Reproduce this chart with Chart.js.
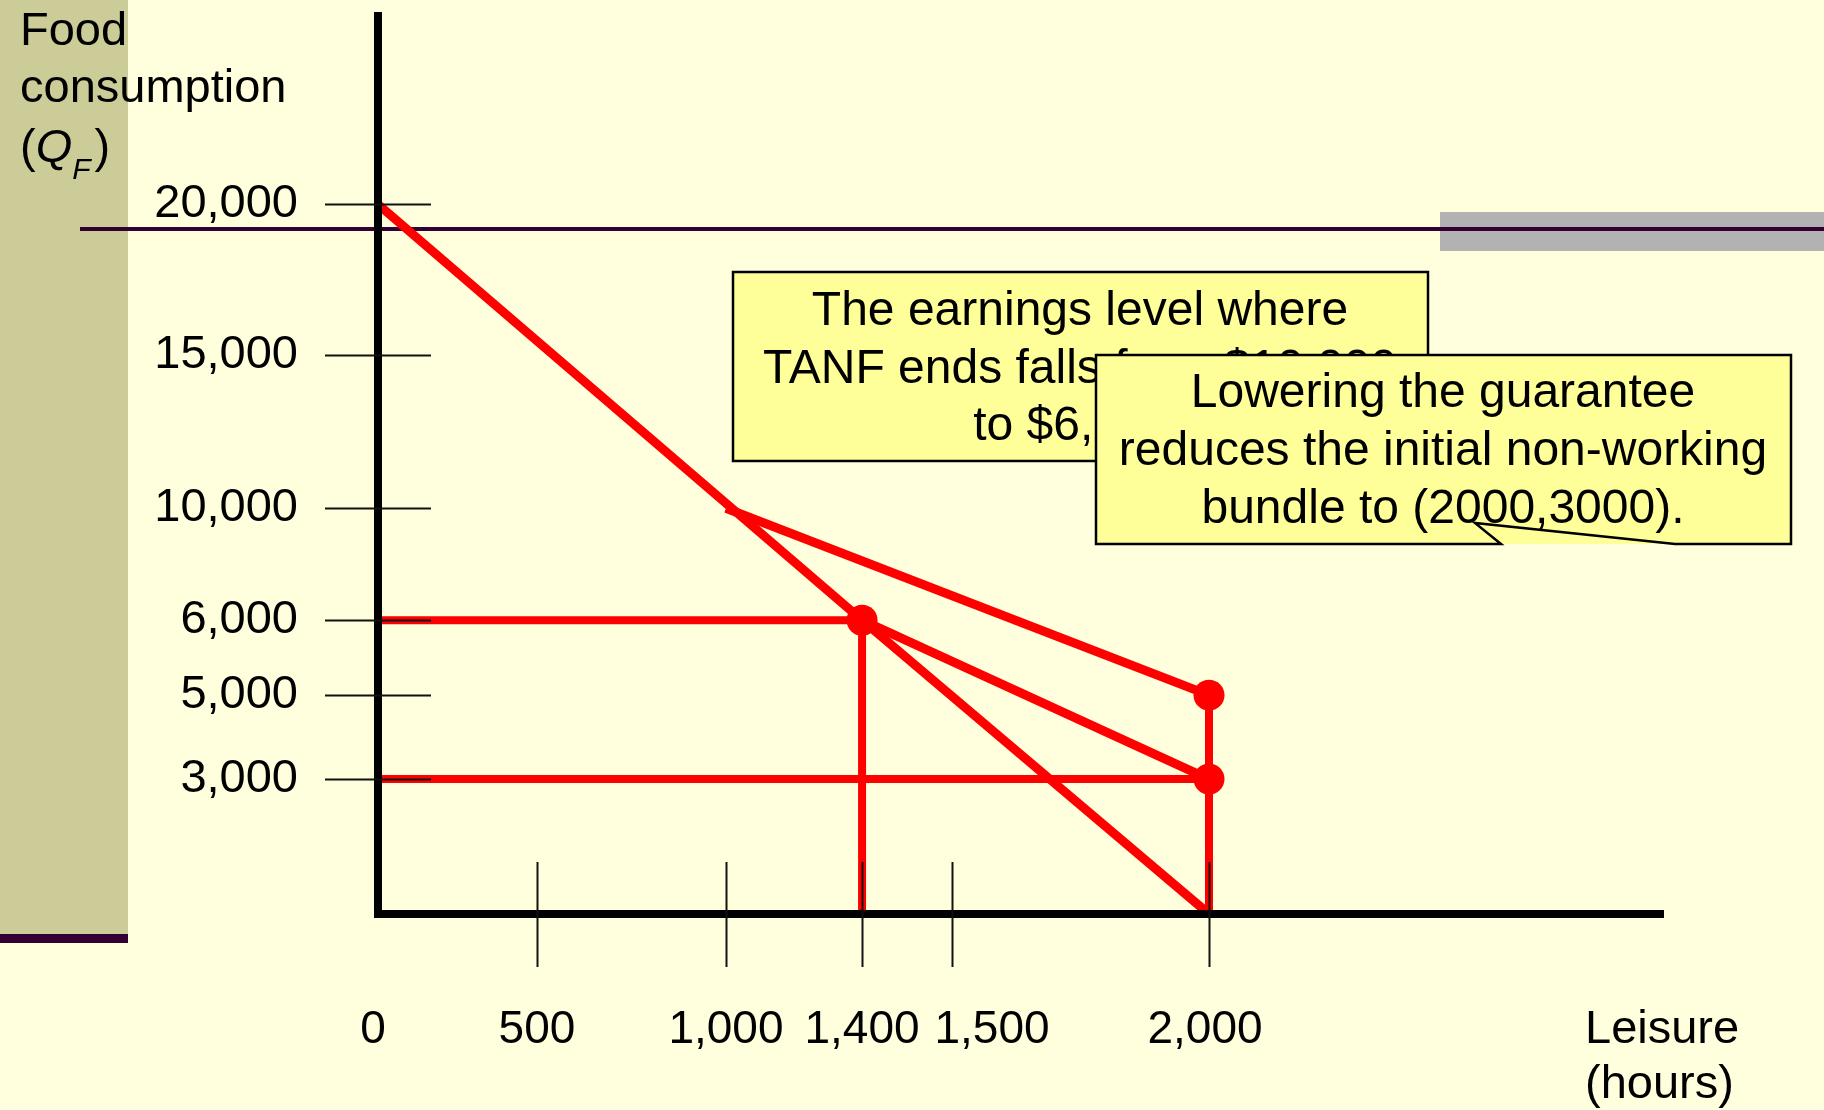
<!DOCTYPE html>
<html>
<head>
<meta charset="utf-8">
<script src="https://cdn.jsdelivr.net/npm/chart.js@4.4.0/dist/chart.umd.min.js"></script>
<style>
  html, body { margin: 0; padding: 0; background: #FFFFDD; }
  canvas { display: block; }
</style>
</head>
<body>
<canvas id="chart" width="1824" height="1110"></canvas>
<script>
// leisure (hours) on x, food consumption ($) on y
const xTicks = [0, 500, 1000, 1400, 1500, 2000];
const yTicks = [3000, 5000, 6000, 10000, 15000, 20000];

const budgetX = [0, 1400, 2000];
const budgetY = [20000, 6000, 0];
const oldTanfX = [1000, 2000];
const oldTanfY = [10000, 5000];
const newTanfX = [1400, 2000];
const newTanfY = [6000, 3000];
const guide6000X = [0, 1400, 1400];
const guide6000Y = [6000, 6000, 0];
const guide3000X = [0, 2000];
const guide3000Y = [3000, 3000];
const guide2000X = [2000, 2000];
const guide2000Y = [5000, 0];
const bundleX = [1400, 2000, 2000];
const bundleY = [6000, 5000, 3000];

const note1 = ['The earnings level where', 'TANF ends falls from $10,000', 'to $6,000.'];
const note2 = ['Lowering the guarantee', 'reduces the initial non-working', 'bundle to (2000,3000).'];

const FONT = '"Liberation Sans", Arial, Helvetica, sans-serif';
const RED = '#FF0000';

// the slide's axes are spaced by hand, not linearly: value -> fraction of the axis
const axisKnots = {
  x: [[0, 0], [500, 0.1237], [1000, 0.2708], [1400, 0.3767], [1500, 0.4467], [2000, 0.6467], [2900, 1]],
  y: [[0, 0], [3000, 0.1502], [5000, 0.2436], [6000, 0.3270], [10000, 0.4516], [15000, 0.6218], [20000, 0.7898], [26000, 1]]
};

class KnotScale extends Chart.LinearScale {
  getPixelForValue(value) {
    const k = axisKnots[this.id];
    let i = 1;
    while (i < k.length - 1 && value > k[i][0]) i++;
    const [v0, f0] = k[i - 1], [v1, f1] = k[i];
    return this.getPixelForDecimal(f0 + (value - v0) / (v1 - v0) * (f1 - f0));
  }
  getValueForPixel(pixel) {
    const k = axisKnots[this.id];
    const f = this.getDecimalForPixel(pixel);
    let i = 1;
    while (i < k.length - 1 && f > k[i][1]) i++;
    const [v0, f0] = k[i - 1], [v1, f1] = k[i];
    return v0 + (f - f0) / (f1 - f0) * (v1 - v0);
  }
}
KnotScale.id = 'knots';
KnotScale.defaults = Chart.LinearScale.defaults;
Chart.register(KnotScale);

const seg = (xs, ys, w) => ({
  data: xs.map((x, i) => ({ x, y: ys[i] })),
  showLine: true, borderColor: RED, borderWidth: w, pointRadius: 0, tension: 0, fill: false
});

// fixed plot box; drop the label padding chart.js would add above/below the axis
const fixBox = (s, size) => {
  if (s.isHorizontal()) s.height = size; else s.width = size;
  s.paddingTop = 0; s.paddingBottom = 0; s.paddingLeft = 0; s.paddingRight = 0;
};

// slide background, decorations, tick crosses, labels and callouts
const slidePlugin = {
  id: 'slide',
  beforeDraw(chart) {
    const ctx = chart.ctx;
    ctx.save();
    ctx.fillStyle = '#FFFFDD';
    ctx.fillRect(0, 0, chart.width, chart.height);
    ctx.fillStyle = '#CCCC99';
    ctx.fillRect(0, 0, 128, 934);
    ctx.fillStyle = '#330033';
    ctx.fillRect(0, 934, 128, 9);
    ctx.fillStyle = '#B2B2B2';
    ctx.fillRect(1440, 212, 384, 39);
    ctx.fillStyle = '#330033';
    ctx.fillRect(80, 227, chart.width - 80, 4);
    ctx.restore();
  },
  afterDraw(chart) {
    const ctx = chart.ctx;
    const { x, y } = chart.scales;
    const area = chart.chartArea;
    ctx.save();

    // tick crosses
    ctx.strokeStyle = '#111';
    ctx.lineWidth = 2;
    yTicks.forEach(v => {
      const py = Math.round(y.getPixelForValue(v)) + 0.5;
      ctx.beginPath();
      ctx.moveTo(area.left - 53, py);
      ctx.lineTo(area.left + 53, py);
      ctx.stroke();
    });
    xTicks.slice(1).forEach(v => {
      const px = Math.round(x.getPixelForValue(v)) + 0.5;
      ctx.beginPath();
      ctx.moveTo(px, area.bottom - 52);
      ctx.lineTo(px, area.bottom + 53);
      ctx.stroke();
    });

    // x tick labels (1,500 is nudged right on the slide so it clears 1,400)
    ctx.fillStyle = '#000';
    ctx.font = `46px ${FONT}`;
    ctx.textAlign = 'center';
    ctx.textBaseline = 'alphabetic';
    const nudge = { 0: -5, 1500: 40, 2000: -4 };
    xTicks.forEach(v => {
      ctx.fillText(v.toLocaleString('en-US'), x.getPixelForValue(v) + (nudge[v] || 0), 1043);
    });

    // axis titles
    ctx.textAlign = 'left';
    ctx.font = `47px ${FONT}`;
    ctx.fillText('Food', 20, 45);
    ctx.fillText('consumption', 20, 102);
    let cx = 20;
    ctx.fillText('(', cx, 162);
    cx += ctx.measureText('(').width;
    ctx.font = `italic 47px ${FONT}`;
    ctx.fillText('Q', cx, 162);
    cx += ctx.measureText('Q').width;
    ctx.font = `italic 30px ${FONT}`;
    ctx.fillText('F', cx, 179);
    cx += ctx.measureText('F').width + 4;
    ctx.font = `47px ${FONT}`;
    ctx.fillText(')', cx, 162);
    ctx.fillText('Leisure', 1585, 1043);
    ctx.fillText('(hours)', 1585, 1098);

    // callouts
    ctx.lineWidth = 2.5;
    ctx.strokeStyle = '#000';
    ctx.fillStyle = '#FFFF99';
    ctx.fillRect(733, 272, 695, 189);
    ctx.strokeRect(733, 272, 695, 189);
    ctx.fillStyle = '#000';
    ctx.font = `48px ${FONT}`;
    ctx.textAlign = 'center';
    note1.forEach((t, i) => ctx.fillText(t, 1080, 325 + i * 57.5));

    ctx.beginPath();
    ctx.moveTo(1096, 355);
    ctx.lineTo(1791, 355);
    ctx.lineTo(1791, 544);
    ctx.lineTo(1675, 544);
    ctx.lineTo(1475, 523);
    ctx.lineTo(1501, 544);
    ctx.lineTo(1096, 544);
    ctx.closePath();
    ctx.fillStyle = '#FFFF99';
    ctx.fillRect(1096, 355, 695, 189);
    ctx.fillStyle = '#000';
    note2.forEach((t, i) => ctx.fillText(t, 1443, 407 + i * 58));
    ctx.stroke();

    ctx.restore();
  }
};

new Chart(document.getElementById('chart'), {
  type: 'scatter',
  data: {
    datasets: [
      seg(budgetX, budgetY, 9),
      seg(oldTanfX, oldTanfY, 9),
      seg(newTanfX, newTanfY, 9),
      seg(guide6000X, guide6000Y, 8),
      seg(guide3000X, guide3000Y, 8),
      seg(guide2000X, guide2000Y, 8),
      {
        data: bundleX.map((v, i) => ({ x: v, y: bundleY[i] })),
        showLine: false, pointRadius: 15.5, backgroundColor: RED, borderWidth: 0
      }
    ]
  },
  plugins: [slidePlugin],
  options: {
    responsive: false,
    animation: false,
    events: [],
    layout: { padding: { left: 0, top: 15, right: 161, bottom: 0 } },
    plugins: { legend: { display: false }, tooltip: { enabled: false } },
    scales: {
      x: {
        type: 'knots', position: 'bottom', min: 0, max: 2900,
        afterBuildTicks: s => { s.ticks = xTicks.map(v => ({ value: v })); },
        afterFit: s => fixBox(s, 196),
        grid: { display: false, drawTicks: false },
        border: { display: true, color: '#000', width: 8, z: 1 },
        ticks: { display: false }
      },
      y: {
        type: 'knots', position: 'left', min: 0, max: 26000,
        afterBuildTicks: s => { s.ticks = yTicks.map(v => ({ value: v })); },
        afterFit: s => fixBox(s, 378),
        grid: { display: false, drawTicks: false },
        border: { display: true, color: '#000', width: 8, z: 1 },
        ticks: {
          autoSkip: false, padding: 80, color: '#000',
          font: { family: FONT, size: 47 },
          callback: v => v.toLocaleString('en-US')
        }
      }
    }
  }
});
</script>
</body>
</html>
